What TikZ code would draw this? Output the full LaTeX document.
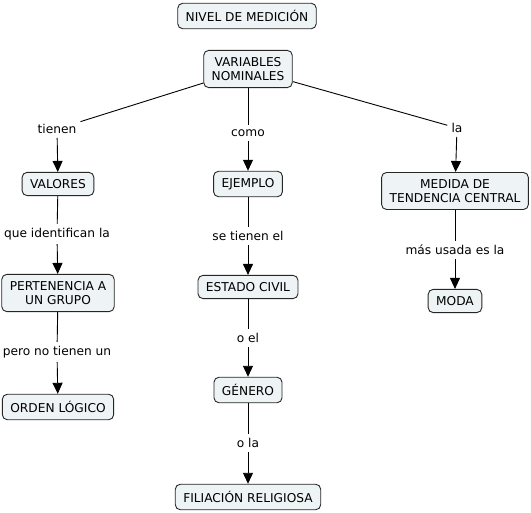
\documentclass[tikz,border=0pt]{standalone}
\usepackage{fontspec}
\setmainfont{DejaVu Sans}
\usetikzlibrary{arrows.meta,positioning}
\definecolor{conceptfill}{RGB}{238,243,246}

\begin{document}
\begin{tikzpicture}[
  x=1pt, y=-1pt,
  concept/.style={draw=black!85, line width=0.9pt, rounded corners=5pt,
    fill=conceptfill, align=center, font=\fontsize{12.2}{14}\selectfont,
    inner xsep=8pt, inner ysep=7pt},
  link/.style={align=center, font=\fontsize{12.2}{14}\selectfont, inner sep=4pt},
  line/.style={draw=black, line width=0.9pt},
  arrow/.style={line, -{Triangle[length=11pt,width=10pt]}}
]
\useasboundingbox (0,0) rectangle (531,513);

\node[concept] (nivel) at (247,16) {NIVEL DE MEDICIÓN};
\node[concept] (variables) at (248,69) {VARIABLES\\NOMINALES};

\node[link] (tienen) at (57,129) {tienen};
\node[link] (como) at (248,133) {como};
\node[link] (la) at (457,128) {la};

\node[concept] (valores) at (58,184) {VALORES};
\node[concept] (ejemplo) at (248,184) {EJEMPLO};
\node[concept] (medida) at (455,191) {MEDIDA DE\\TENDENCIA CENTRAL};

\node[link] (identifican) at (57,234) {que identifican la};
\node[link] (setienen) at (248,236) {se tienen el};
\node[link] (usada) at (455,250) {más usada es la};

\node[concept] (pertenencia) at (58,293) {PERTENENCIA A\\UN GRUPO};
\node[concept] (estado) at (248,287) {ESTADO CIVIL};
\node[concept] (moda) at (455,301) {MODA};

\node[link] (noTienen) at (57,352) {pero no tienen un};
\node[link] (oel) at (248,338) {o el};

\node[concept] (orden) at (58,407) {ORDEN LÓGICO};
\node[concept] (genero) at (248,390) {GÉNERO};

\node[link] (ola) at (248,443) {o la};
\node[concept] (filiacion) at (248,497) {FILIACIÓN RELIGIOSA};

% enlaces
\draw[line] (variables) -- (tienen);
\draw[line] (variables) -- (como);
\draw[line] (variables) -- (la);
\draw[arrow] (tienen) -- (valores);
\draw[arrow] (como) -- (ejemplo);
\draw[arrow] (la) -- (medida);

\draw[line] (valores) -- (identifican);
\draw[arrow] (identifican) -- (pertenencia);
\draw[line] (pertenencia) -- (noTienen);
\draw[arrow] (noTienen) -- (orden);

\draw[line] (ejemplo) -- (setienen);
\draw[arrow] (setienen) -- (estado);
\draw[line] (estado) -- (oel);
\draw[arrow] (oel) -- (genero);
\draw[line] (genero) -- (ola);
\draw[arrow] (ola) -- (filiacion);

\draw[line] (medida) -- (usada);
\draw[arrow] (usada) -- (moda);
\end{tikzpicture}
\end{document}
